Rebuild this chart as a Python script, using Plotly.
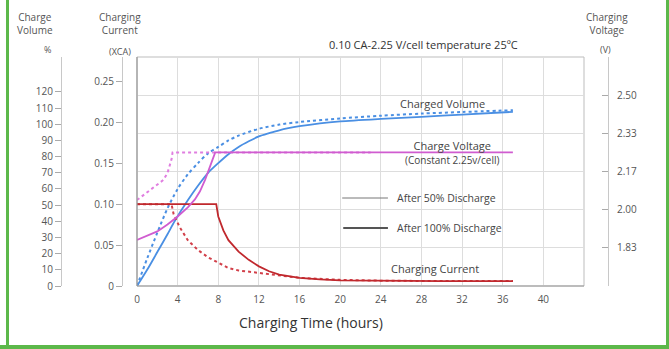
import plotly.graph_objects as go

W, H = 669, 349

# ---------------- data ----------------
# Charged volume (%) after 100% discharge (solid) and after 50% discharge (dotted)
vol100_t = [0, 1, 2, 3, 3.7, 5, 6, 7, 8, 9, 10, 11, 12, 13, 14, 16, 18, 20, 24, 28, 32, 37]
vol100_v = [0, 10, 21, 32, 40, 53, 62, 70, 76, 81.5, 86, 89.5, 92.5, 94.5, 96.3, 98.8, 100.6, 101.8, 103.3, 104.6, 106, 107.7]
vol50_t = [0, 1, 2, 3, 4, 5, 6, 7, 8, 9, 10, 12, 14, 16, 20, 24, 28, 32, 37]
vol50_v = [0, 17, 33, 48, 60, 69, 76, 82, 86, 90, 93, 97.2, 99.8, 101.4, 103.6, 105.3, 106.6, 107.6, 108.7]

# Charge voltage (V/cell)
volt100_t = [0, 1, 2, 3, 4, 5, 5.7, 6.2, 6.7, 7.2, 7.7, 37]
volt100_v = [1.868, 1.885, 1.905, 1.935, 1.97, 2.01, 2.045, 2.08, 2.13, 2.19, 2.25, 2.25]
volt50_t = [0, 1, 2, 2.6, 3.0, 3.2, 3.4, 3.5, 23]
volt50_v = [2.042, 2.077, 2.11, 2.13, 2.16, 2.186, 2.22, 2.25, 2.25]

# Charging current (xCA)
cur100_t = [0, 7.8, 8.0, 8.5, 9, 10, 11, 12, 13, 14, 16, 18, 20, 24, 30, 37]
cur100_v = [0.10, 0.10, 0.085, 0.068, 0.056, 0.042, 0.032, 0.024, 0.018, 0.014, 0.010, 0.008, 0.007, 0.0065, 0.006, 0.006]
cur50_t = [0, 3.4, 3.6, 4.2, 5, 6, 7, 8, 9, 10, 12, 14, 16, 20, 24, 30, 37]
cur50_v = [0.10, 0.10, 0.088, 0.072, 0.056, 0.044, 0.035, 0.028, 0.022, 0.019, 0.016, 0.013, 0.010, 0.0075, 0.0065, 0.006, 0.006]

x_ticks = [0, 4, 8, 12, 16, 20, 24, 28, 32, 36, 40]
vol_ticks = [0, 10, 20, 30, 40, 50, 60, 70, 80, 90, 100, 110, 120]
cur_ticks = [0, 0.05, 0.10, 0.15, 0.20, 0.25]
cur_labels = ["0", "0.05", "0.10", "0.15", "0.20", "0.25"]
volt_ticks = [11 / 6, 2.0, 13 / 6, 7 / 3, 2.5]
volt_labels = ["1.83", "2.00", "2.17", "2.33", "2.50"]

# ---------------- styling ----------------
BLUE = "#4a8fe3"
MAG = "#d05cd0"
MAG_D = "#e07ee0"
RED = "#c0282d"
RED_D = "#d2404a"
FONT = "Open Sans"
TXT = "#444444"
TICK = "#555555"


def px(x):
    return x / W


def py(y):
    return 1 - y / H


fig = go.Figure()

fig.add_trace(go.Scatter(x=vol50_t, y=vol50_v, mode="lines", yaxis="y",
                         line=dict(color=BLUE, width=2, dash="dot", shape="spline", smoothing=0.8),
                         showlegend=False))
fig.add_trace(go.Scatter(x=vol100_t, y=vol100_v, mode="lines", yaxis="y",
                         line=dict(color=BLUE, width=1.8, shape="spline", smoothing=0.8),
                         showlegend=False))
fig.add_trace(go.Scatter(x=cur50_t, y=cur50_v, mode="lines", yaxis="y2",
                         line=dict(color=RED_D, width=2, dash="dot"), showlegend=False))
fig.add_trace(go.Scatter(x=cur100_t, y=cur100_v, mode="lines", yaxis="y2",
                         line=dict(color=RED, width=1.8), showlegend=False))
fig.add_trace(go.Scatter(x=volt50_t, y=volt50_v, mode="lines", yaxis="y3",
                         line=dict(color=MAG_D, width=2, dash="dot"), showlegend=False))
fig.add_trace(go.Scatter(x=volt100_t, y=volt100_v, mode="lines", yaxis="y3",
                         line=dict(color=MAG, width=1.8), showlegend=False))

ydom = [py(286), py(57)]
axis_common = dict(domain=ydom, showgrid=False, zeroline=False, showline=True,
                   automargin=False,
                   linecolor="#c8c8c8", linewidth=1, ticklen=6, tickcolor="#aaaaaa",
                   tickfont=dict(family=FONT, size=10, color=TICK))

fig.update_layout(
    width=W, height=H,
    margin=dict(l=0, r=0, t=0, b=0),
    paper_bgcolor="white", plot_bgcolor="white",
    font=dict(family=FONT, color=TXT),
    showlegend=False,
    xaxis=dict(domain=[px(137), px(584)], range=[0, 44], tickvals=x_ticks,
               automargin=False,
               showgrid=True, gridcolor="#dddddd", gridwidth=1, zeroline=False,
               showline=False, ticks="", ticklabelstandoff=6,
               tickfont=dict(family=FONT, size=10, color=TICK)),
    yaxis=dict(axis_common, anchor="free", position=px(61), range=[0, 141.6],
               tickvals=vol_ticks, ticks="outside", side="left"),
    yaxis2=dict(axis_common, anchor="free", position=px(122), overlaying="y",
                range=[0, 0.28], tickvals=cur_ticks, ticktext=cur_labels,
                ticks="outside", side="left"),
    yaxis3=dict(axis_common, anchor="free", position=px(608), overlaying="y",
                range=[10 / 6, 16 / 6], tickvals=volt_ticks, ticktext=volt_labels,
                ticks="inside", side="right", showgrid=True, gridcolor="#dddddd",
                ticklabelstandoff=6),
)

# plot box
fig.add_shape(type="rect", xref="x domain", yref="y domain", x0=0, x1=1, y0=0, y1=1,
              line=dict(color="#bdbdbd", width=1), layer="below")
fig.add_shape(type="line", xref="x domain", yref="y domain", x0=0, x1=0, y0=0, y1=1,
              line=dict(color="#999999", width=1.2))
fig.add_shape(type="line", xref="x domain", yref="y domain", x0=0, x1=1, y0=0, y1=0,
              line=dict(color="#999999", width=1.2))

# legend key lines
fig.add_shape(type="line", xref="x", yref="paper", x0=20.2, x1=24.7, y0=py(198), y1=py(198),
              line=dict(color="#777777", width=1))
fig.add_shape(type="line", xref="x", yref="paper", x0=20.3, x1=24.7, y0=py(228), y1=py(228),
              line=dict(color="#555555", width=2))

# green frame
GREEN = "#5cb84a"
fig.add_shape(type="line", xref="paper", yref="paper", x0=px(7.5), x1=px(7.5), y0=0, y1=1,
              line=dict(color=GREEN, width=3))
fig.add_shape(type="line", xref="paper", yref="paper", x0=px(667.5), x1=px(667.5), y0=0, y1=1,
              line=dict(color=GREEN, width=3))
fig.add_shape(type="line", xref="paper", yref="paper", x0=0, x1=1, y0=py(347), y1=py(347),
              line=dict(color=GREEN, width=4))


def ann(text, x, y, size=10, color=TXT, xanchor="center"):
    fig.add_annotation(text=text, x=px(x), y=py(y), xref="paper", yref="paper",
                       showarrow=False, xanchor=xanchor, yanchor="middle",
                       font=dict(family=FONT, size=size, color=color))


ann("Charge<br>Volume", 35, 24, 10, "#555555")
ann("%", 47, 50, 9, "#555555")
ann("Charging<br>Current", 120, 24, 10, "#555555")
ann("(XCA)", 120, 51, 9, "#555555")
ann("Charging<br>Voltage", 607, 24, 10, "#555555")
ann("(V)", 605, 50, 9, "#555555")
ann("0.10 CA-2.25 V/cell temperature 25ºC", 423, 45, 11, "#333333")
ann("Charging Time (hours)", 311, 322, 14, "#333333")
ann("Charged Volume", 442, 103, 11)
ann("Charge Voltage<br><span style='font-size:10px'>(Constant 2.25v/cell)</span>", 452, 152, 11)
ann("After 50% Discharge", 395, 198, 10.5, xanchor="left")
ann("After 100% Discharge", 395, 228, 10.5, xanchor="left")
ann("Charging Current", 435, 268, 11)

fig.write_html("out.html", config={"displayModeBar": False},
               post_script="document.body.style.margin='0px';document.body.style.overflow='hidden';")
